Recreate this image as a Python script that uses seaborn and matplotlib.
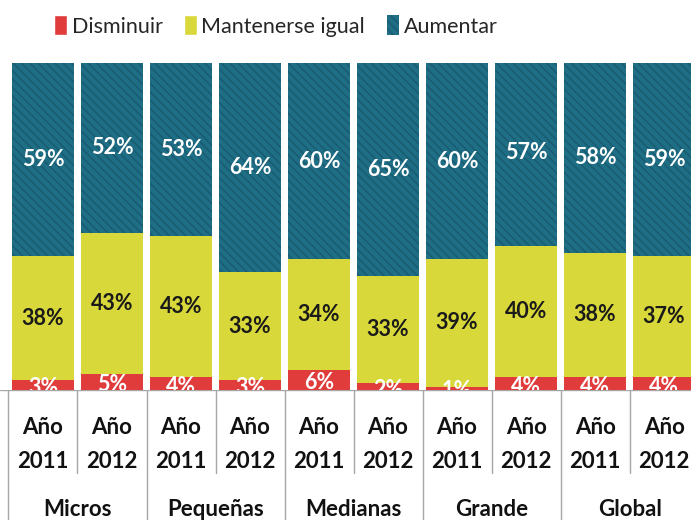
import numpy as np
import pandas as pd
import seaborn as sns
import matplotlib.pyplot as plt
from matplotlib.patches import Patch

# values (percent)
groups = ["Micros", "Pequeñas", "Medianas", "Grande", "Global"]
years = ["2011", "2012"]
disminuir = [3, 5, 4, 3, 6, 2, 1, 4, 4, 4]
mantener = [38, 43, 43, 33, 34, 33, 39, 40, 38, 37]
aumentar = [59, 52, 53, 64, 60, 65, 60, 57, 58, 59]

red = "#e03c3c"
yellow = "#d8d83a"
teal = "#1e6e86"
teal_dark = "#185a6e"

sns.set_theme(style="white")
plt.rcParams["font.family"] = ["Lato", "DejaVu Sans"]

bars = [f"{g}\n{y}" for g in groups for y in years]
df = pd.DataFrame({"bar": bars, "dis": disminuir, "man": mantener, "aum": aumentar})
df["low"] = df["dis"]
df["mid"] = df["dis"] + df["man"]
df["top"] = df["dis"] + df["man"] + df["aum"]

fig = plt.figure(figsize=(6.91, 5.2), dpi=100)
ax = fig.add_axes([0, 0.25, 1, 0.879 - 0.25])

sns.barplot(data=df, x="bar", y="top", order=bars, color=teal, width=0.9,
            saturation=1, edgecolor=teal_dark, linewidth=0, hatch="\\\\\\\\", ax=ax)
sns.barplot(data=df, x="bar", y="mid", order=bars, color=yellow, width=0.9,
            saturation=1, linewidth=0, ax=ax)
sns.barplot(data=df, x="bar", y="low", order=bars, color=red, width=0.9,
            saturation=1, linewidth=0, ax=ax)

ax.set_xlim(-0.623, 9.39)
ax.set_ylim(0, 100)
ax.set_axis_off()

lab = dict(ha="center", va="center", fontsize=15.5, fontweight="bold", clip_on=True)
for i, row in df.iterrows():
    ax.text(i, row["mid"] + row["aum"] / 2, f"{row['aum']}%", color="white", **lab)
    ax.text(i, row["low"] + row["man"] / 2, f"{row['man']}%", color="#1a1a1a", **lab)
    ax.text(i, row["dis"] / 2 - 0.8, f"{row['dis']}%", color="white", **lab)

# category table under the bars
tab = fig.add_axes([0, 0, 1, 0.25])
tab.set_xlim(ax.get_xlim())
tab.set_ylim(0, 1)
tab.set_axis_off()
tab.axhline(1, color="#a6a6a6", lw=1)
for k in range(len(bars) + 1):
    x = k - 0.5
    if k % 2 == 0:
        tab.plot([x, x], [0, 1], color="#a6a6a6", lw=1)
    else:
        tab.plot([x, x], [0.36, 1], color="#a6a6a6", lw=1)
txt = dict(ha="center", va="center", fontsize=16, fontweight="bold", color="#111111")
for i, b in enumerate(bars):
    g, y = b.split("\n")
    tab.text(i, 0.71, "Año", **txt)
    tab.text(i, 0.45, y, **txt)
for j, g in enumerate(groups):
    tab.text(2 * j + 0.5, 0.08, g, **txt)

handles = [Patch(facecolor=red, label="Disminuir"),
           Patch(facecolor=yellow, label="Mantenerse igual"),
           Patch(facecolor=teal, edgecolor=teal_dark, hatch="\\\\\\\\", lw=0, label="Aumentar")]
fig.legend(handles=handles, loc="center", bbox_to_anchor=(276 / 691, 1 - 26 / 520), ncol=3,
           frameon=False, handlelength=0.6, handleheight=1.0,
           handletextpad=0.2, columnspacing=1.0, fontsize=15.5)

fig.savefig("out.png", dpi=100)
